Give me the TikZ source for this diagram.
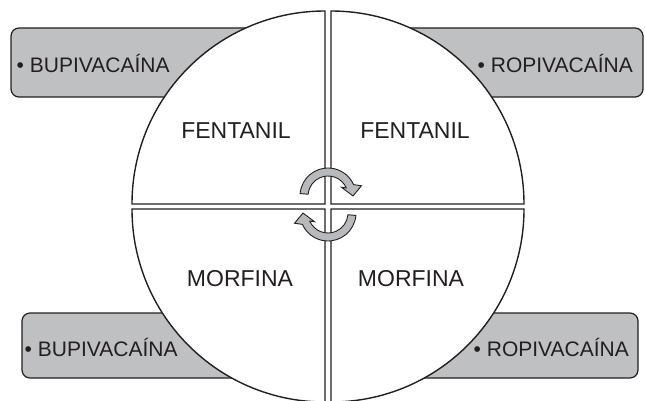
\documentclass[tikz,border=0pt]{standalone}
\usepackage{fontspec}
\setmainfont{Liberation Sans}
\definecolor{boxgray}{RGB}{191,192,194}
\definecolor{arrgray}{RGB}{184,185,188}
\definecolor{ink}{RGB}{35,31,32}

\begin{document}
\begin{tikzpicture}[x=1pt,y=1pt,
  tab/.style={draw=ink,line width=1.2pt,fill=boxgray,rounded corners=8pt},
  quad/.style={draw=ink,line width=1.4pt,fill=white},
  drug/.style={anchor=base west,inner sep=0pt,text=ink,font=\fontsize{21}{24}\selectfont},
  opio/.style={anchor=base,inner sep=0pt,text=ink,font=\fontsize{23}{26}\selectfont},
  arrfill/.style={draw=ink,line width=0.9pt,fill=arrgray},
  rotarrow/.pic={
    \path[arrfill] (175:20) -- (175:28) arc[start angle=175,end angle=24,radius=28]
      -- (17:35) -- (0:25) -- (33:16) -- (24:20)
      arc[start angle=24,end angle=175,radius=20] -- cycle;
  }]
\clip (0,0) rectangle (645,400);

% grey tabs behind the circle
\path[tab] (11,303) rectangle (300,372);
\path[tab] (350,303) rectangle (643,372);
\path[tab] (22,22) rectangle (300,87);
\path[tab] (355,22) rectangle (638,87);

\node[drug] (bupiA) at (16.5,327) {• BUPIVACAÍNA};
\node[drug] (ropiA) at (477.5,327) {• ROPIVACAÍNA};
\node[drug] (bupiB) at (24.5,44) {• BUPIVACAÍNA};
\node[drug] (ropiB) at (473.5,44) {• ROPIVACAÍNA};

% four quarters of the circle
\path[quad] (325,196) -- (132,196) arc[start angle=180,end angle=90,radius=193] -- cycle;
\path[quad] (331,196) -- (331,389) arc[start angle=90,end angle=0,radius=193] -- cycle;
\path[quad] (325,191) -- (132,191) arc[start angle=180,end angle=270,radius=193] -- cycle;
\path[quad] (331,191) -- (331,-2) arc[start angle=270,end angle=360,radius=193] -- cycle;

\node[opio] (fenA) at (236,262) {FENTANIL};
\node[opio] (fenB) at (415,262) {FENTANIL};
\node[opio] (morA) at (240,113.5) {MORFINA};
\node[opio] (morB) at (411,113.5) {MORFINA};

% rotation arrows
\pic at (328,204) {rotarrow};
\pic[rotate=180] at (328,187) {rotarrow};
\end{tikzpicture}
\end{document}
